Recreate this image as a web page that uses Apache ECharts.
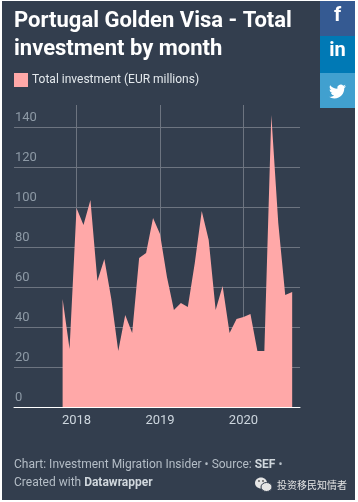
<!DOCTYPE html>
<html>
<head>
<meta charset="utf-8">
<style>
html,body{margin:0;padding:0;background:#fff;width:358px;height:502px;overflow:hidden}
#panel{position:absolute;left:2px;top:1px;width:353px;height:499px;background:#333e4e}
.btn{position:absolute;left:320px;width:35px}
#fb{top:1px;height:35px;background:#355a92}
#li{top:36px;height:37px;background:#0079b5}
#tw{top:73px;height:35px;background:#41a0cf}
#tw svg{position:absolute;left:9px;top:10px;width:17px;height:17px}
#chart{position:absolute;left:0;top:0;width:358px;height:502px}
</style>
<script src="https://cdn.jsdelivr.net/npm/echarts@6/dist/echarts.min.js"></script>
</head>
<body>
<div id="panel"></div>
<div class="btn" id="fb"></div>
<div class="btn" id="li"></div>
<div class="btn" id="tw"><svg viewBox="0 0 24 24"><path fill="#fff" d="M23.953 4.57a10 10 0 01-2.825.775 4.958 4.958 0 002.163-2.723c-.951.555-2.005.959-3.127 1.184a4.92 4.92 0 00-8.384 4.482C7.69 8.095 4.067 6.13 1.64 3.162a4.822 4.822 0 00-.666 2.475c0 1.71.87 3.213 2.188 4.096a4.904 4.904 0 01-2.228-.616v.06a4.923 4.923 0 003.946 4.827 4.996 4.996 0 01-2.212.085 4.936 4.936 0 004.604 3.417 9.867 9.867 0 01-6.102 2.105c-.39 0-.779-.023-1.17-.067a13.995 13.995 0 007.557 2.209c9.053 0 13.998-7.496 13.998-13.985 0-.21 0-.42-.015-.63A9.935 9.935 0 0024 4.59z"/></svg></div>
<div id="chart"></div>
<script>
const months = ['2017-11','2017-12',
 '2018-01','2018-02','2018-03','2018-04','2018-05','2018-06','2018-07','2018-08','2018-09','2018-10','2018-11','2018-12',
 '2019-01','2019-02','2019-03','2019-04','2019-05','2019-06','2019-07','2019-08','2019-09','2019-10','2019-11','2019-12',
 '2020-01','2020-02','2020-03','2020-04','2020-05','2020-06','2020-07','2020-08'];
const investment = [54,29,
 99.5,91,103.5,63,74,54,28,46,37,74.5,77,94.5,
 86.5,65,48.5,52,50,72,98,83.5,48.5,60.5,37,44,
 45,46.5,28,28,146,92,56,57.5];
const yearTicks = [2018,2019,2020];
const seriesName = 'Total investment (EUR millions)';
const titleLines = ['Portugal Golden Visa - Total','investment by month'];
const FONT = 'Roboto, sans-serif';
const PINK = '#ffa8a8';
const GRID = '#6d7480';

// x positions are fractional years, so the axis stays linear in months
const monthPos = m => { const p = m.split('-'); return +p[0] + (+p[1] - 1) / 12; };

const chart = echarts.init(document.getElementById('chart'), null, {renderer:'canvas'});
chart.setOption({
  animation:false,
  backgroundColor:'transparent',
  textStyle:{fontFamily:FONT},
  legend:{
    left:14, top:73, padding:0, itemWidth:14, itemHeight:14, itemGap:0,
    icon:'rect',
    data:[seriesName],
    textStyle:{color:'#e3e8ec',fontSize:12,fontFamily:FONT,padding:[0,0,0,-1]}
  },
  grid:{left:14,right:58,top:105,bottom:95,containLabel:false},
  xAxis:{
    type:'value',
    min:2017.251,
    max:2020.677,
    axisLine:{show:true,onZero:false,lineStyle:{color:'#ffffff',width:1}},
    axisTick:{show:false,customValues:yearTicks},
    splitLine:{show:true,lineStyle:{color:GRID,width:1}},
    axisLabel:{
      customValues:yearTicks,
      formatter:v => String(v),
      color:'#cdd6de',fontSize:13,fontFamily:FONT,margin:7,
      showMinLabel:true,showMaxLabel:true
    }
  },
  yAxis:{
    type:'value',min:0,max:151,interval:20,
    axisLine:{show:false},axisTick:{show:false},
    splitLine:{show:true,showMaxLine:false,lineStyle:{color:GRID,width:1}},
    axisLabel:{
      inside:true,margin:1,showMaxLabel:false,
      verticalAlign:'bottom',
      color:'#8d99a5',fontSize:13,fontFamily:FONT,padding:[0,0,3,0]
    }
  },
  series:[{
    name:seriesName,type:'line',
    data:months.map((m,i)=>[monthPos(m),investment[i]]),
    showSymbol:false,symbol:'none',
    lineStyle:{width:0},
    itemStyle:{color:PINK},
    areaStyle:{color:PINK,opacity:1},
    z:3
  }],
  graphic:[
    {type:'text',left:14,top:10,style:{text:titleLines[0],fill:'#fff',font:'bold 22px '+FONT}},
    {type:'text',left:14,top:38,style:{text:titleLines[1],fill:'#fff',font:'bold 22px '+FONT}},
    {type:'text',x:337.5,y:16,style:{text:'f',fill:'#fff',font:'bold 20px '+FONT,align:'center',verticalAlign:'middle'}},
    {type:'text',x:337.5,y:51,style:{text:'in',fill:'#fff',font:'bold 20px '+FONT,align:'center',verticalAlign:'middle'}},
    {type:'text',left:14,top:459,style:{
      rich:{a:{fill:'#b4bdc6',font:'12px '+FONT,lineHeight:18},b:{fill:'#d0d7dd',font:'bold 12px '+FONT,lineHeight:18}},
      text:'{a|Chart: Investment Migration Insider • Source: }{b|SEF}{a| •}\n{a|Created with }{b|Datawrapper}'
    }},
    {type:'ellipse',shape:{cx:261,cy:483,rx:6,ry:5.5},style:{fill:'#e6e6e6'}},
    {type:'circle',shape:{cx:259,cy:481,r:0.9},style:{fill:'#555'}},
    {type:'circle',shape:{cx:263,cy:481,r:0.9},style:{fill:'#555'}},
    {type:'ellipse',shape:{cx:266.5,cy:487,rx:5.5,ry:4.5},style:{fill:'#e6e6e6',stroke:'#333e4e',lineWidth:1}},
    {type:'text',left:277,top:480,style:{text:'投资移民知情者',fill:'#e4e4e4',font:'10px "Noto Sans CJK SC"'}}
  ]
});
</script>
</body>
</html>
